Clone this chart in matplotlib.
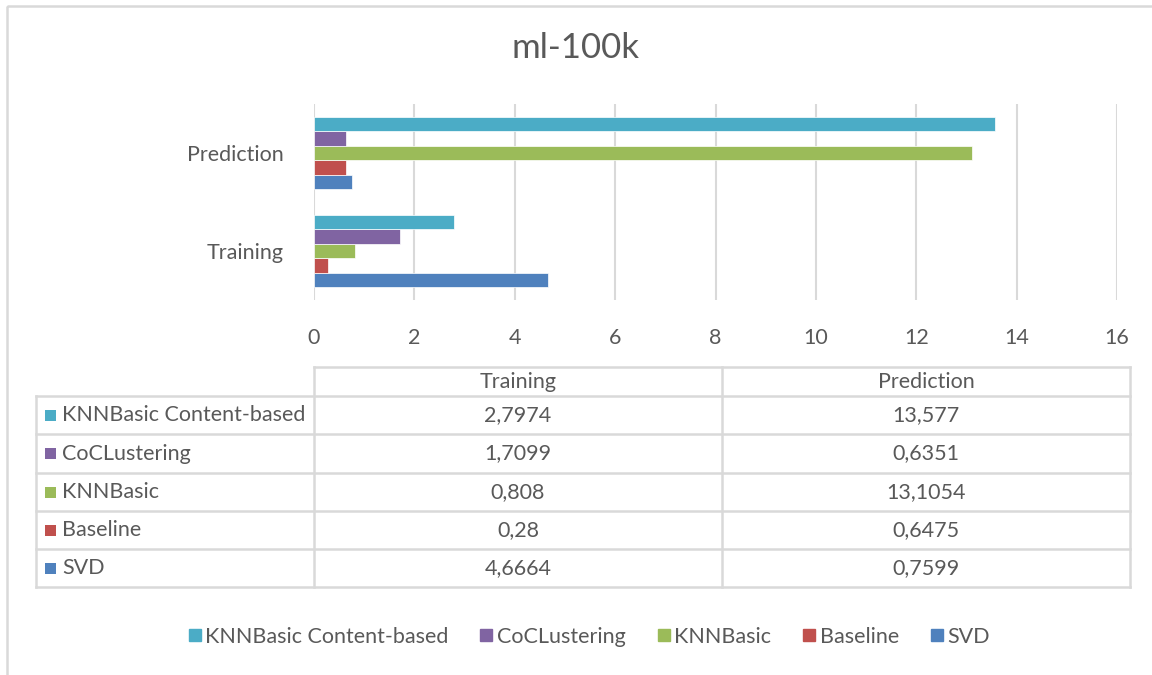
import matplotlib.pyplot as plt
from matplotlib.lines import Line2D
from matplotlib.patches import Rectangle
import numpy as np

plt.rcParams['font.family'] = ['Lato', 'DejaVu Sans']

# data
categories = ['Training', 'Prediction']
series = ['SVD', 'Baseline', 'KNNBasic', 'CoCLustering', 'KNNBasic Content-based']
colors = ['#4F81BD', '#C0504D', '#9BBB59', '#8064A2', '#4BACC6']
svd = [4.6664, 0.7599]
baseline = [0.28, 0.6475]
knnbasic = [0.808, 13.1054]
coclustering = [1.7099, 0.6351]
knn_content = [2.7974, 13.577]
values = [svd, baseline, knnbasic, coclustering, knn_content]
xticks = [0, 2, 4, 6, 8, 10, 12, 14, 16]

W, H = 1152, 675
txt = '#595959'
grid = '#d9d9d9'
fs = 15.5

fig = plt.figure(figsize=(W / 100, H / 100), dpi=100)

# background axes in pixel units for frame / table
bg = fig.add_axes([0, 0, 1, 1])
bg.set_xlim(0, W)
bg.set_ylim(H, 0)
bg.axis('off')
bg.add_patch(Rectangle((6.5, 5.5), W + 20, H + 20, fill=False, ec=grid, lw=1.8))

# bar chart
ax = fig.add_axes([314 / W, 1 - 300 / H, (1117 - 314) / W, (300 - 104) / H])
h = 0.148
y = np.arange(len(categories))
for i, (name, vals, c) in enumerate(zip(series, values, colors)):
    ax.barh(y + (i - 2) * h, vals, height=h, color=c, edgecolor='white', linewidth=0.5, zorder=3)
ax.set_xlim(0, 16)
ax.set_ylim(-0.5, 1.5)
ax.set_xticks(xticks)
ax.set_yticks(y)
ax.set_yticklabels(categories)
ax.grid(axis='x', color=grid, lw=1.5, zorder=0)
for s in ax.spines.values():
    s.set_visible(False)
ax.tick_params(length=0, labelsize=fs, colors=txt)
ax.tick_params(axis='y', pad=22)
ax.tick_params(axis='x', pad=20)

fig.text(0.5, 1 - 48 / H, 'ml-100k', ha='center', va='center', fontsize=25, color=txt)

# data table
xs = [36, 314, 722, 1130]
ys = [367, 396, 434, 473, 511, 549, 587]
lk = dict(color=grid, lw=1.8)
bg.plot([xs[1], xs[3]], [ys[0], ys[0]], **lk)
for yy in ys[1:]:
    bg.plot([xs[0], xs[3]], [yy, yy], **lk)
for xx in xs[1:]:
    bg.plot([xx, xx], [ys[0], ys[-1]], **lk)
bg.plot([xs[0], xs[0]], [ys[1], ys[-1]], **lk)

for j, cat in enumerate(categories):
    bg.text((xs[j + 1] + xs[j + 2]) / 2, (ys[0] + ys[1]) / 2, cat, ha='center',
            va='center', fontsize=fs, color=txt)

rows = list(range(len(series)))[::-1]
for r, i in enumerate(rows):
    yc = (ys[r + 1] + ys[r + 2]) / 2
    bg.add_patch(Rectangle((45, yc - 5.5), 11, 11, color=colors[i], lw=0))
    bg.text(62, yc, series[i], ha='left', va='center', fontsize=fs, color=txt)
    for j in range(len(categories)):
        s = str(values[i][j]).replace('.', ',')
        bg.text((xs[j + 1] + xs[j + 2]) / 2, yc, s, ha='center', va='center',
                fontsize=fs, color=txt)

# legend
handles = [Line2D([], [], marker='s', ls='', color=colors[i], markersize=8) for i in rows]
fig.legend(handles, [series[i] for i in rows], loc='center', ncol=5,
           bbox_to_anchor=(588 / W, 1 - 637 / H), frameon=False, fontsize=fs,
           labelcolor=txt, handletextpad=0.1, columnspacing=1.35, handlelength=0.8)

fig.savefig('out.png', dpi=100)
